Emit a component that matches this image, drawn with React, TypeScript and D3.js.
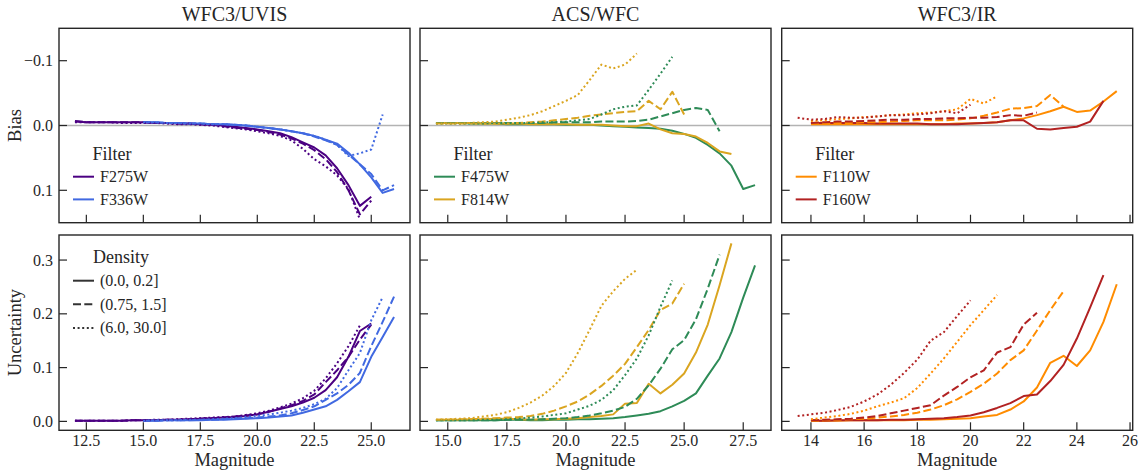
import React from 'react';
import * as d3 from 'd3';

// ---------- DATA ----------
const GRID = [12, 12.5, 13, 13.5, 14, 14.5, 15, 15.5, 16, 16.5, 17, 17.5, 18, 18.5, 19, 19.5, 20, 20.5, 21, 21.5, 22, 22.5, 23, 23.5, 24, 24.5, 25, 25.5, 26, 26.5, 27, 27.5, 28];

const INSTRUMENTS = ['WFC3/UVIS', 'ACS/WFC', 'WFC3/IR'];
const FILTERS = [['F275W', 'F336W'], ['F475W', 'F814W'], ['F110W', 'F160W']];
const DENSITIES = ['(0.0, 0.2]', '(0.75, 1.5]', '(6.0, 30.0]'];
const FILTER_COLORS: Record<string, string> = {
  F275W: '#4b0082', F336W: '#4169e1', F475W: '#2e8b57', F814W: '#daa520', F110W: '#ff8c00', F160W: '#b22222',
};

// start magnitude of each series [filter][density]
const START: Record<string, number[]> = {
  F275W: [12, 12, 12], F336W: [15, 15, 15],
  F475W: [14.5, 14.5, 14.5], F814W: [14.5, 14.5, 14.5],
  F110W: [14, 14, 14], F160W: [14, 14, 13.5],
};

// Bias values
const F275W_BIAS = [
  [-0.006, -0.005, -0.005, -0.005, -0.005, -0.005, -0.005, -0.004, -0.004, -0.003, -0.003, -0.002, -0.001, 0.0, 0.002, 0.004, 0.006, 0.009, 0.012, 0.018, 0.026, 0.034, 0.046, 0.066, 0.092, 0.124, 0.11],
  [-0.007, -0.005, -0.005, -0.005, -0.005, -0.005, -0.005, -0.004, -0.004, -0.003, -0.003, -0.002, -0.001, 0.001, 0.003, 0.005, 0.007, 0.01, 0.014, 0.02, 0.028, 0.038, 0.052, 0.072, 0.1, 0.137, 0.116],
  [-0.005, -0.005, -0.005, -0.005, -0.004, -0.004, -0.004, -0.004, -0.003, -0.002, -0.002, -0.001, 0.0, 0.002, 0.004, 0.006, 0.009, 0.012, 0.016, 0.023, 0.036, 0.052, 0.063, 0.077, 0.098, 0.145],
];
const F336W_BIAS = [
  [-0.005, -0.005, -0.004, -0.004, -0.003, -0.003, -0.002, -0.002, -0.001, 0.0, 0.002, 0.004, 0.006, 0.009, 0.012, 0.016, 0.022, 0.028, 0.042, 0.06, 0.08, 0.104, 0.098],
  [-0.005, -0.005, -0.004, -0.004, -0.003, -0.003, -0.002, -0.002, -0.001, 0.0, 0.002, 0.004, 0.006, 0.009, 0.012, 0.017, 0.023, 0.03, 0.045, 0.06, 0.075, 0.1, 0.092],
  [-0.005, -0.005, -0.004, -0.004, -0.003, -0.003, -0.002, -0.002, -0.001, 0.0, 0.002, 0.004, 0.006, 0.009, 0.012, 0.016, 0.022, 0.03, 0.047, 0.043, 0.037, -0.017],
];
const F475W_BIAS = [
  [-0.004, -0.004, -0.004, -0.003, -0.003, -0.003, -0.002, -0.002, -0.002, -0.002, -0.002, -0.001, -0.001, -0.001, 0.0, 0.001, 0.002, 0.003, 0.004, 0.005, 0.008, 0.013, 0.019, 0.03, 0.043, 0.062, 0.098, 0.092],
  [-0.004, -0.004, -0.004, -0.004, -0.004, -0.004, -0.004, -0.004, -0.004, -0.004, -0.005, -0.005, -0.005, -0.005, -0.006, -0.006, -0.006, -0.007, -0.009, -0.014, -0.019, -0.024, -0.027, -0.024, 0.009],
  [-0.003, -0.003, -0.003, -0.003, -0.003, -0.004, -0.004, -0.004, -0.004, -0.005, -0.005, -0.006, -0.008, -0.01, -0.017, -0.025, -0.029, -0.031, -0.055, -0.08, -0.106],
];
const F814W_BIAS = [
  [-0.004, -0.004, -0.004, -0.004, -0.003, -0.003, -0.003, -0.003, -0.002, -0.002, -0.002, -0.002, -0.001, -0.001, -0.001, 0.0, 0.001, 0.001, -0.003, 0.006, 0.012, 0.013, 0.017, 0.027, 0.04, 0.044],
  [-0.003, -0.003, -0.003, -0.003, -0.003, -0.003, -0.003, -0.004, -0.005, -0.006, -0.008, -0.01, -0.012, -0.015, -0.017, -0.019, -0.021, -0.022, -0.038, -0.025, -0.052, -0.017],
  [-0.003, -0.003, -0.003, -0.004, -0.005, -0.006, -0.009, -0.012, -0.016, -0.022, -0.03, -0.038, -0.047, -0.07, -0.094, -0.088, -0.094, -0.111],
];
const F110W_BIAS = [
  [-0.002, -0.002, -0.002, -0.002, -0.002, -0.002, -0.002, -0.002, -0.002, -0.002, -0.002, -0.003, -0.003, -0.004, -0.005, -0.008, -0.011, -0.016, -0.022, -0.029, -0.021, -0.023, -0.037, -0.053],
  [-0.003, -0.004, -0.004, -0.004, -0.005, -0.005, -0.006, -0.007, -0.008, -0.008, -0.008, -0.009, -0.011, -0.015, -0.02, -0.026, -0.027, -0.03, -0.047, -0.029],
  [-0.007, -0.008, -0.01, -0.011, -0.013, -0.014, -0.016, -0.017, -0.019, -0.02, -0.022, -0.025, -0.041, -0.034, -0.045],
];
const F160W_BIAS = [
  [-0.004, -0.004, -0.004, -0.004, -0.004, -0.003, -0.003, -0.003, -0.003, -0.002, -0.002, -0.002, -0.003, -0.004, -0.005, -0.008, -0.008, 0.005, 0.006, 0.004, 0.002, -0.006, -0.038],
  [-0.004, -0.005, -0.006, -0.006, -0.007, -0.008, -0.009, -0.009, -0.01, -0.01, -0.011, -0.011, -0.012, -0.012, -0.013, -0.016, -0.015, -0.02],
  [-0.012, -0.009, -0.01, -0.013, -0.012, -0.012, -0.014, -0.016, -0.016, -0.017, -0.019, -0.022, -0.019, -0.032],
];

// Uncertainty values
const F275W_UNC = [
  [0.001, 0.001, 0.001, 0.001, 0.001, 0.002, 0.002, 0.002, 0.003, 0.003, 0.004, 0.005, 0.006, 0.007, 0.008, 0.01, 0.013, 0.018, 0.023, 0.028, 0.035, 0.044, 0.058, 0.082, 0.12, 0.168, 0.182],
  [0.001, 0.001, 0.001, 0.001, 0.001, 0.002, 0.002, 0.002, 0.003, 0.003, 0.004, 0.005, 0.006, 0.007, 0.009, 0.011, 0.013, 0.018, 0.024, 0.03, 0.038, 0.05, 0.073, 0.095, 0.12, 0.152, 0.18],
  [0.001, 0.001, 0.001, 0.001, 0.001, 0.002, 0.002, 0.003, 0.003, 0.004, 0.005, 0.006, 0.007, 0.008, 0.009, 0.012, 0.015, 0.02, 0.026, 0.033, 0.043, 0.057, 0.08, 0.108, 0.14, 0.178],
];
const F336W_UNC = [
  [0.001, 0.001, 0.002, 0.002, 0.002, 0.002, 0.003, 0.003, 0.004, 0.005, 0.006, 0.007, 0.009, 0.011, 0.016, 0.022, 0.028, 0.04, 0.056, 0.073, 0.12, 0.157, 0.194],
  [0.001, 0.001, 0.002, 0.002, 0.002, 0.003, 0.003, 0.004, 0.005, 0.006, 0.007, 0.009, 0.011, 0.015, 0.021, 0.028, 0.04, 0.052, 0.068, 0.09, 0.14, 0.185, 0.232],
  [0.001, 0.002, 0.002, 0.002, 0.003, 0.003, 0.004, 0.005, 0.006, 0.008, 0.01, 0.013, 0.016, 0.02, 0.025, 0.032, 0.042, 0.062, 0.095, 0.127, 0.188, 0.231],
];
const F475W_UNC = [
  [0.002, 0.002, 0.002, 0.002, 0.002, 0.002, 0.003, 0.003, 0.002, 0.002, 0.003, 0.003, 0.004, 0.004, 0.005, 0.006, 0.008, 0.011, 0.014, 0.019, 0.028, 0.038, 0.052, 0.085, 0.117, 0.166, 0.23, 0.29],
  [0.002, 0.002, 0.002, 0.002, 0.002, 0.002, 0.003, 0.003, 0.003, 0.004, 0.005, 0.006, 0.008, 0.011, 0.015, 0.02, 0.027, 0.042, 0.067, 0.098, 0.134, 0.151, 0.19, 0.247, 0.31],
  [0.002, 0.002, 0.002, 0.002, 0.003, 0.003, 0.004, 0.005, 0.007, 0.009, 0.012, 0.015, 0.022, 0.029, 0.04, 0.058, 0.086, 0.117, 0.16, 0.213, 0.262],
];
const F814W_UNC = [
  [0.003, 0.003, 0.003, 0.004, 0.004, 0.005, 0.005, 0.004, 0.003, 0.004, 0.004, 0.005, 0.006, 0.008, 0.01, 0.013, 0.033, 0.034, 0.07, 0.052, 0.068, 0.089, 0.128, 0.18, 0.253, 0.331],
  [0.003, 0.003, 0.004, 0.004, 0.005, 0.006, 0.007, 0.008, 0.01, 0.014, 0.02, 0.028, 0.037, 0.05, 0.066, 0.085, 0.107, 0.138, 0.17, 0.207, 0.219, 0.256],
  [0.003, 0.004, 0.005, 0.006, 0.009, 0.012, 0.017, 0.025, 0.035, 0.048, 0.066, 0.09, 0.127, 0.17, 0.215, 0.242, 0.265, 0.282],
];
const F110W_UNC = [
  [0.001, 0.001, 0.001, 0.002, 0.002, 0.002, 0.002, 0.002, 0.003, 0.003, 0.004, 0.005, 0.006, 0.009, 0.012, 0.022, 0.037, 0.063, 0.109, 0.122, 0.103, 0.132, 0.185, 0.255],
  [0.001, 0.002, 0.003, 0.004, 0.005, 0.007, 0.009, 0.012, 0.016, 0.022, 0.03, 0.041, 0.055, 0.07, 0.089, 0.114, 0.132, 0.169, 0.207, 0.242],
  [0.004, 0.007, 0.01, 0.014, 0.02, 0.028, 0.035, 0.043, 0.062, 0.089, 0.117, 0.148, 0.179, 0.207, 0.235],
];
const F160W_UNC = [
  [0.001, 0.001, 0.002, 0.002, 0.002, 0.002, 0.003, 0.003, 0.004, 0.005, 0.006, 0.008, 0.011, 0.017, 0.025, 0.034, 0.047, 0.05, 0.075, 0.105, 0.154, 0.212, 0.272],
  [0.002, 0.003, 0.004, 0.005, 0.007, 0.01, 0.015, 0.02, 0.025, 0.03, 0.048, 0.064, 0.082, 0.095, 0.128, 0.138, 0.18, 0.202],
  [0.01, 0.013, 0.016, 0.021, 0.027, 0.037, 0.05, 0.068, 0.09, 0.115, 0.15, 0.166, 0.196, 0.225],
];

const BIAS: Record<string, number[][]> = {
  F275W: F275W_BIAS, F336W: F336W_BIAS, F475W: F475W_BIAS, F814W: F814W_BIAS, F110W: F110W_BIAS, F160W: F160W_BIAS,
};
const UNC: Record<string, number[][]> = {
  F275W: F275W_UNC, F336W: F336W_UNC, F475W: F475W_UNC, F814W: F814W_UNC, F110W: F110W_UNC, F160W: F160W_UNC,
};

const X_DOMAINS: [number, number][] = [[11.3, 26.7], [13.825, 28.675], [12.9, 26.1]];
const X_TICKS = [[12.5, 15, 17.5, 20, 22.5, 25], [15, 17.5, 20, 22.5, 25, 27.5], [14, 16, 18, 20, 22, 24, 26]];
const X_TICK_FORMATS = ['.1f', '.1f', 'd'];
const BIAS_DOMAIN: [number, number] = [-0.15, 0.15];
const BIAS_TICKS = [-0.1, 0.0, 0.1];
const UNC_DOMAIN: [number, number] = [-0.0166, 0.3466];
const UNC_TICKS = [0.0, 0.1, 0.2, 0.3];

// ---------- STYLE ----------
const FONT = 'Liberation Serif';
const INK = '#262626';
const DASHES = [null, '8,3.3', '2,2.6'];
const PANEL_LEFT = [59, 420, 781.7];
const PANEL_W = 351;
const ROW_TOP = [28.3, 235];
const ROW_H = [194.4, 195.3];

function seriesPoints(filter: string, d: number, values: number[]) {
  const i0 = GRID.indexOf(START[filter][d]);
  return values.map((v, i) => [GRID[i0 + i], v] as [number, number]);
}

function Panel({ col, row }: { col: number; row: number }) {
  const left = PANEL_LEFT[col];
  const top = ROW_TOP[row];
  const h = ROW_H[row];
  const x = d3.scaleLinear().domain(X_DOMAINS[col]).range([left, left + PANEL_W]);
  const y = row === 0
    ? d3.scaleLinear().domain(BIAS_DOMAIN).range([top, top + h])
    : d3.scaleLinear().domain(UNC_DOMAIN).range([top + h, top]);
  const yTicks = row === 0 ? BIAS_TICKS : UNC_TICKS;
  const data = row === 0 ? BIAS : UNC;
  const line = d3.line<[number, number]>().x((p) => x(p[0])).y((p) => y(p[1]));
  const clipId = `clip-${col}-${row}`;
  const fmtX = d3.format(X_TICK_FORMATS[col]);
  const fmtY = (v: number) => (v < 0 ? '\u2212' : '') + d3.format('.1f')(Math.abs(v));
  const filters = FILTERS[col];
  const lines: any[] = [];
  [0, 1, 2].forEach((d) => {
    filters.forEach((f) => {
      lines.push(
        <path key={`${f}-${d}`} d={line(seriesPoints(f, d, data[f][d])) || ''} fill="none"
          stroke={FILTER_COLORS[f]} strokeWidth={2} strokeDasharray={DASHES[d] || undefined}
          strokeLinejoin="round" strokeLinecap="butt" />
      );
    });
  });
  const TL = 8;
  return (
    <g>
      <defs>
        <clipPath id={clipId}><rect x={left} y={top} width={PANEL_W} height={h} /></clipPath>
      </defs>
      <g clipPath={`url(#${clipId})`}>
        {row === 0 && (
          <line x1={left} x2={left + PANEL_W} y1={y(0)} y2={y(0)} stroke="#b3b3b3" strokeWidth={1.6} />
        )}
        {lines}
      </g>
      <rect x={left} y={top} width={PANEL_W} height={h} fill="none" stroke={INK} strokeWidth={1.4} />
      {X_TICKS[col].map((t) => (
        <g key={`xt${t}`}>
          <line x1={x(t)} x2={x(t)} y1={top + h} y2={top + h - TL} stroke={INK} strokeWidth={1.2} />
          {row === 1 && (
            <text x={x(t)} y={top + h + 15.5} textAnchor="middle" fontFamily={FONT} fontSize={16} fill={INK}>{fmtX(t)}</text>
          )}
        </g>
      ))}
      {yTicks.map((t) => (
        <g key={`yt${t}`}>
          <line x1={left} x2={left + TL} y1={y(t)} y2={y(t)} stroke={INK} strokeWidth={1.2} />
          {col === 0 && (
            <text x={left - 6} y={y(t) + 5.5} textAnchor="end" fontFamily={FONT} fontSize={16} fill={INK}>{fmtY(t)}</text>
          )}
        </g>
      ))}
      {row === 0 && (
        <text x={left + PANEL_W / 2} y={21} textAnchor="middle" fontFamily={FONT} fontSize={20} fill={INK}>{INSTRUMENTS[col]}</text>
      )}
      {row === 1 && (
        <text x={left + PANEL_W / 2} y={466} textAnchor="middle" fontFamily={FONT} fontSize={18.5} fill={INK}>Magnitude</text>
      )}
      {row === 0 && (
        <g>
          <text x={left + 53} y={top + 132} textAnchor="middle" fontFamily={FONT} fontSize={18} fill={INK}>Filter</text>
          {filters.map((f, i) => (
            <g key={f}>
              <line x1={left + 14} x2={left + 35} y1={top + 148.4 + i * 22.7} y2={top + 148.4 + i * 22.7}
                stroke={FILTER_COLORS[f]} strokeWidth={2} />
              <text x={left + 41} y={top + 153.6 + i * 22.7} fontFamily={FONT} fontSize={16} fill={INK}>{f}</text>
            </g>
          ))}
        </g>
      )}
      {row === 1 && col === 0 && (
        <g>
          <text x={left + 62} y={top + 28.3} textAnchor="middle" fontFamily={FONT} fontSize={18} fill={INK}>Density</text>
          {DENSITIES.map((dn, i) => (
            <g key={dn}>
              <line x1={left + 14} x2={left + 35} y1={top + 45.7 + i * 23.6} y2={top + 45.7 + i * 23.6}
                stroke="#333" strokeWidth={2} strokeDasharray={DASHES[i] || undefined} />
              <text x={left + 41} y={top + 51 + i * 23.6} fontFamily={FONT} fontSize={16} fill={INK}>{dn}</text>
            </g>
          ))}
        </g>
      )}
    </g>
  );
}

export default function App() {
  return (
    <svg width={1146} height={476} style={{ position: 'absolute', left: 0, top: 0, background: '#fff' }}>
      <rect x={0} y={0} width={1146} height={476} fill="#fff" />
      {[0, 1].map((r) => [0, 1, 2].map((c) => <Panel key={`${r}-${c}`} col={c} row={r} />))}
      <text transform={`translate(21,${ROW_TOP[0] + ROW_H[0] / 2}) rotate(-90)`} textAnchor="middle" fontFamily={FONT} fontSize={18.5} fill={INK}>Bias</text>
      <text transform={`translate(21,${ROW_TOP[1] + ROW_H[1] / 2}) rotate(-90)`} textAnchor="middle" fontFamily={FONT} fontSize={18.5} fill={INK}>Uncertainty</text>
    </svg>
  );
}
